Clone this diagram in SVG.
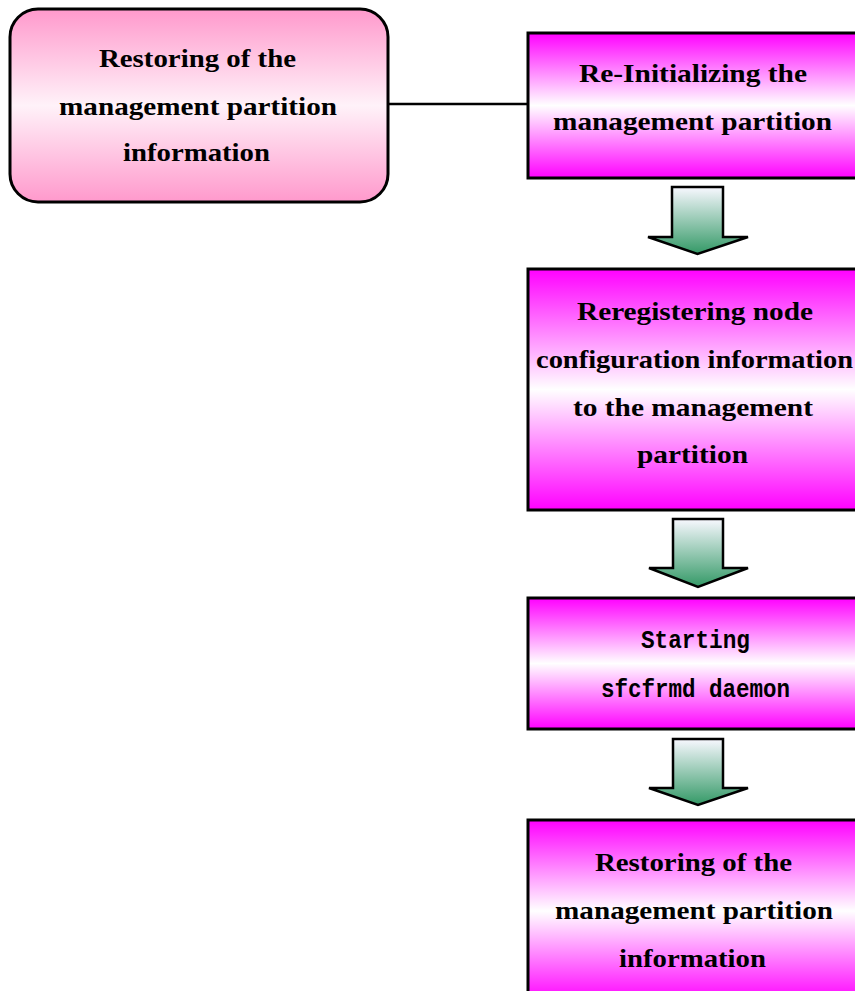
<svg xmlns="http://www.w3.org/2000/svg" width="855" height="991" viewBox="0 0 855 991">
  <defs>
    <linearGradient id="gPink" x1="0" y1="0" x2="0" y2="1">
      <stop offset="0" stop-color="#ff99cc"/>
      <stop offset="0.5" stop-color="#fff2f9"/>
      <stop offset="1" stop-color="#ff99cc"/>
    </linearGradient>
    <linearGradient id="gMag" x1="0" y1="0" x2="0" y2="1">
      <stop offset="0" stop-color="#ff00ff"/>
      <stop offset="0.5" stop-color="#ffffff"/>
      <stop offset="1" stop-color="#ff00ff"/>
    </linearGradient>
    <linearGradient id="gArrow" x1="0" y1="0" x2="0" y2="1">
      <stop offset="0" stop-color="#f8f8ff"/>
      <stop offset="1" stop-color="#339966"/>
    </linearGradient>
  </defs>
  <style>
    .pink { fill: url(#gPink); stroke: #000; stroke-width: 3; }
    .mag { fill: url(#gMag); stroke: #000; stroke-width: 3; }
    .arrow { fill: url(#gArrow); stroke: #000; stroke-width: 2.5; stroke-linejoin: miter; }
    .t { font-family: "Liberation Serif", "Times New Roman", serif; font-weight: bold; font-size: 25px; fill: #000; }
    .m { font-family: "Liberation Mono", "Courier New", monospace; font-weight: bold; font-size: 25px; fill: #000; }
    .link { stroke: #000; stroke-width: 2.5; fill: none; }
  </style>
  <rect width="855" height="991" fill="#ffffff"/>

  <g id="connectors">
    <line class="link" x1="388" y1="104" x2="528" y2="104"/>
    <path class="arrow" d="M672,187 H723 V237 H748 L697.5,254 L648,237 H672 Z"/>
    <path class="arrow" d="M673,519 H723 V568 H748 L698,587 L649,568 H673 Z"/>
    <path class="arrow" d="M673,739 H723 V788 H748 L698,805 L649,788 H673 Z"/>
  </g>

  <g id="node-restore-left">
    <rect class="pink" x="10" y="9" width="378" height="193" rx="28" ry="28"/>
    <text class="t" x="99" y="67" textLength="197" lengthAdjust="spacingAndGlyphs">Restoring of the</text>
    <text class="t" x="59" y="115" textLength="278" lengthAdjust="spacingAndGlyphs">management partition</text>
    <text class="t" x="123" y="161" textLength="147" lengthAdjust="spacingAndGlyphs">information</text>
  </g>

  <g id="node-reinit">
    <rect class="mag" x="528" y="33" width="340" height="145"/>
    <text class="t" x="579" y="82" textLength="228" lengthAdjust="spacingAndGlyphs">Re-Initializing the</text>
    <text class="t" x="553" y="130" textLength="279" lengthAdjust="spacingAndGlyphs">management partition</text>
  </g>

  <g id="node-reregister">
    <rect class="mag" x="528" y="269" width="340" height="241"/>
    <text class="t" x="577" y="320" textLength="236" lengthAdjust="spacingAndGlyphs">Reregistering node</text>
    <text class="t" x="536" y="368" textLength="317" lengthAdjust="spacingAndGlyphs">configuration information</text>
    <text class="t" x="573" y="416" textLength="240" lengthAdjust="spacingAndGlyphs">to the management</text>
    <text class="t" x="637" y="463" textLength="111" lengthAdjust="spacingAndGlyphs">partition</text>
  </g>

  <g id="node-start">
    <rect class="mag" x="528" y="598" width="340" height="131"/>
    <text class="m" x="641" y="648" textLength="109" lengthAdjust="spacingAndGlyphs">Starting</text>
    <text class="m" x="601" y="697" textLength="189" lengthAdjust="spacingAndGlyphs">sfcfrmd daemon</text>
  </g>

  <g id="node-restore-right">
    <rect class="mag" x="528" y="820" width="340" height="182"/>
    <text class="t" x="595" y="871" textLength="197" lengthAdjust="spacingAndGlyphs">Restoring of the</text>
    <text class="t" x="555" y="919" textLength="278" lengthAdjust="spacingAndGlyphs">management partition</text>
    <text class="t" x="619" y="967" textLength="147" lengthAdjust="spacingAndGlyphs">information</text>
  </g>
</svg>
